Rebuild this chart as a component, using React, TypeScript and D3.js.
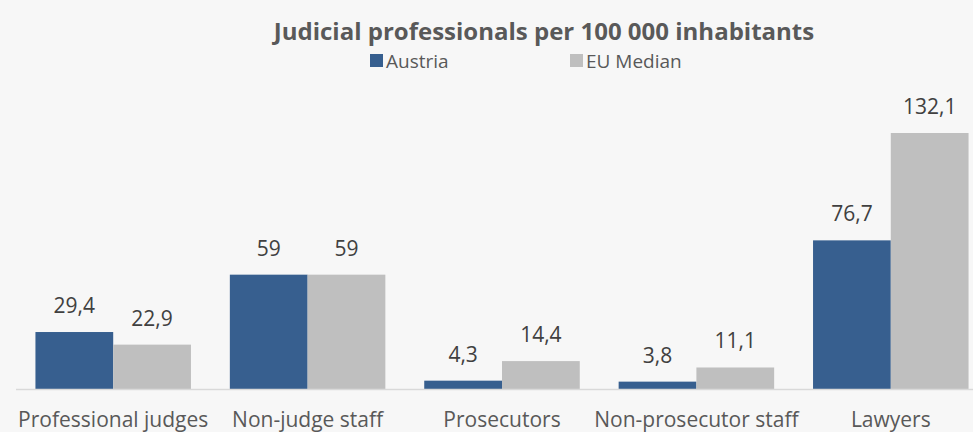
import React, { useEffect, useRef } from 'react';
import * as d3 from 'd3';

const categories = ['Professional judges', 'Non-judge staff', 'Prosecutors', 'Non-prosecutor staff', 'Lawyers'];
const austria = [29.4, 59, 4.3, 3.8, 76.7];
const euMedian = [22.9, 59, 14.4, 11.1, 132.1];
const seriesNames = ['Austria', 'EU Median'];
const seriesColors = ['#375f8f', '#bfbfbf'];

export default function App() {
    const ref = useRef<SVGSVGElement>(null);

    useEffect(() => {
        const svgWidth = 973, svgHeight = 432;
        const svg = d3.select(ref.current).attr('width', svgWidth).attr('height', svgHeight);
        svg.selectAll('*').remove();
        const font = '"Open Sans", sans-serif';

        svg.append('rect').attr('width', svgWidth).attr('height', svgHeight).attr('fill', '#f7f7f7');

        // plot area runs a bit past the right edge, like the original crop
        const left = 16, right = 988, baseline = 389;
        const x0 = d3.scaleBand().domain(categories).range([left, right]).paddingInner(0.2).paddingOuter(0.1);
        const x1 = d3.scaleBand().domain(seriesNames).range([0, x0.bandwidth()]);
        const y = d3.scaleLinear().domain([0, 132.1]).range([baseline, 133]);

        const data = categories.map((c, i) => ({ cat: c, values: [austria[i], euMedian[i]] }));

        const groups = svg.append('g').selectAll('g').data(data).join('g')
            .attr('transform', d => 'translate(' + x0(d.cat) + ',0)');

        groups.selectAll('rect').data(d => d.values.map((v, j) => ({ v, j }))).join('rect')
            .attr('x', d => x1(seriesNames[d.j])!)
            .attr('y', d => y(d.v))
            .attr('width', x1.bandwidth())
            .attr('height', d => baseline - y(d.v))
            .attr('fill', d => seriesColors[d.j]);

        groups.selectAll('text').data(d => d.values.map((v, j) => ({ v, j }))).join('text')
            .attr('x', d => x1(seriesNames[d.j])! + x1.bandwidth() / 2)
            .attr('y', d => y(d.v) - 19)
            .attr('text-anchor', 'middle')
            .attr('font-family', font)
            .attr('font-size', 21)
            .attr('fill', '#404040')
            .text(d => String(d.v).replace('.', ','));

        // axis line
        svg.append('line')
            .attr('x1', left).attr('x2', svgWidth)
            .attr('y1', baseline + 0.5).attr('y2', baseline + 0.5)
            .attr('stroke', '#d9d9d9').attr('stroke-width', 1.5);

        const xAxis = d3.axisBottom(x0).tickSize(0).tickPadding(0);
        const axisG = svg.append('g').attr('transform', 'translate(0,' + baseline + ')').call(xAxis);
        axisG.select('.domain').remove();
        axisG.selectAll('text')
            .attr('y', 38)
            .attr('dy', 0)
            .attr('font-family', font)
            .attr('font-size', 21)
            .attr('fill', '#595959');

        svg.append('text')
            .attr('x', 544).attr('y', 40)
            .attr('text-anchor', 'middle')
            .attr('font-family', font)
            .attr('font-weight', 'bold')
            .attr('font-size', 24)
            .attr('fill', '#595959')
            .text('Judicial professionals per 100 000 inhabitants');

        // legend
        const legendX = [370, 570];
        const legend = svg.append('g').selectAll('g').data(seriesNames).join('g')
            .attr('transform', (d, i) => 'translate(' + legendX[i] + ',54)');
        legend.append('rect').attr('width', 13).attr('height', 13).attr('fill', (d, i) => seriesColors[i]);
        legend.append('text')
            .attr('x', 16).attr('y', 14)
            .attr('font-family', font)
            .attr('font-size', 19)
            .attr('fill', '#595959')
            .text(d => d);
    }, []);

    return (
        <div style={{ position: 'fixed', top: 0, left: 0 }}>
            <svg ref={ref}></svg>
        </div>
    );
}
